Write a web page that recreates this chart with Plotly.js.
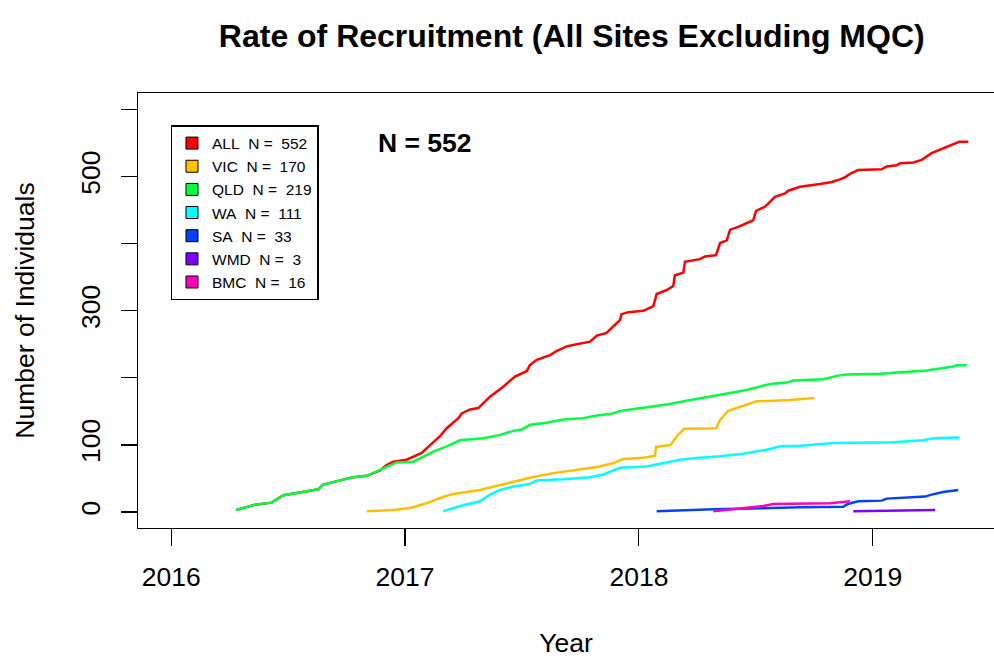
<!DOCTYPE html>
<html>
<head>
<meta charset="utf-8">
<script src="https://cdn.plot.ly/plotly-3.0.1.min.js"></script>
<style>
  html, body { margin: 0; padding: 0; background: #fff; overflow: hidden; }
</style>
</head>
<body>
<div id="chart" style="width:994px;height:658px;"></div>
<script>
// 各サイトの累積登録数 (年は小数で表す)
const allYears = [2016.277, 2016.359, 2016.429, 2016.479, 2016.550, 2016.629, 2016.650, 2016.722, 2016.778, 2016.836,
  2016.893, 2016.921, 2016.950, 2017.007, 2017.071, 2017.092, 2017.149, 2017.178, 2017.206, 2017.228, 2017.242,
  2017.278, 2017.313, 2017.363, 2017.413, 2017.470, 2017.520, 2017.534, 2017.563, 2017.620, 2017.648, 2017.691,
  2017.734, 2017.791, 2017.820, 2017.862, 2017.891, 2017.919, 2017.926, 2017.955, 2018.019, 2018.062, 2018.076,
  2018.119, 2018.147, 2018.154, 2018.190, 2018.197, 2018.261, 2018.283, 2018.330, 2018.347, 2018.376, 2018.390,
  2018.425, 2018.489, 2018.501, 2018.539, 2018.582, 2018.625, 2018.639, 2018.689, 2018.775, 2018.825, 2018.860,
  2018.881, 2018.903, 2018.938, 2019.038, 2019.060, 2019.103, 2019.117, 2019.174, 2019.210, 2019.252, 2019.317,
  2019.352, 2019.370, 2019.409];
const allValues = [3, 11, 14, 25, 29, 34, 41, 47, 52, 54,
  62, 70, 75, 78, 88, 95, 113, 125, 133, 140, 147,
  153, 155, 172, 185, 202, 210, 219, 227, 234, 240, 247,
  250, 254, 263, 267, 277, 286, 295, 298, 300, 307, 325,
  331, 337, 353, 357, 373, 377, 381, 383, 401, 405, 421,
  425, 435, 449, 455, 470, 475, 479, 485, 489, 492, 496,
  499, 504, 510, 511, 515, 517, 520, 521, 525, 535, 544,
  549, 552, 552];

const vicYears = [2016.836, 2016.950, 2017.021, 2017.092, 2017.149, 2017.206, 2017.320, 2017.377, 2017.435, 2017.534,
  2017.634, 2017.734, 2017.820, 2017.891, 2017.933, 2018.019, 2018.069, 2018.073, 2018.136, 2018.162, 2018.193,
  2018.330, 2018.347, 2018.382, 2018.461, 2018.504, 2018.646, 2018.750];
const vicValues = [1, 3, 6, 13, 21, 27, 33, 38, 43, 51,
  58, 63, 67, 73, 79, 81, 84, 97, 100, 113, 124,
  125, 137, 151, 160, 165, 167, 170];

const qldYears = [2016.277, 2016.359, 2016.429, 2016.479, 2016.550, 2016.629, 2016.650, 2016.722, 2016.778, 2016.836,
  2016.921, 2016.964, 2017.035, 2017.121, 2017.178, 2017.235, 2017.334, 2017.406, 2017.463, 2017.499, 2017.534,
  2017.606, 2017.677, 2017.762, 2017.820, 2017.876, 2017.926, 2018.033, 2018.133, 2018.204, 2018.290, 2018.376,
  2018.461, 2018.561, 2018.632, 2018.660, 2018.746, 2018.789, 2018.846, 2018.889, 2019.031, 2019.117, 2019.231,
  2019.288, 2019.345, 2019.359, 2019.402];
const qldValues = [3, 11, 14, 25, 29, 34, 41, 47, 52, 54,
  68, 74, 75, 90, 98, 107, 110, 115, 121, 123, 130,
  133, 138, 140, 144, 146, 151, 156, 161, 166, 171, 176,
  182, 191, 193, 196, 197, 198, 203, 205, 206, 208, 211,
  214, 217, 219, 219];

const waYears = [2017.163, 2017.235, 2017.320, 2017.363, 2017.406, 2017.463, 2017.534, 2017.563, 2017.677, 2017.791,
  2017.848, 2017.891, 2017.919, 2018.033, 2018.090, 2018.176, 2018.233, 2018.347, 2018.447, 2018.504, 2018.561,
  2018.604, 2018.689, 2018.832, 2019.088, 2019.216, 2019.259, 2019.370];
const waValues = [1, 9, 16, 26, 33, 38, 42, 47, 49, 52,
  56, 62, 66, 68, 72, 78, 80, 83, 87, 90, 94,
  98, 99, 103, 104, 107, 110, 111];

const saYears = [2018.076, 2018.318, 2018.689, 2018.874, 2018.894, 2018.938, 2019.038, 2019.060, 2019.224, 2019.252,
  2019.302, 2019.366];
const saValues = [1, 4, 7, 8, 12, 16, 17, 20, 23, 26, 30, 33];

const wmdYears = [2018.917, 2019.216, 2019.267];
const wmdValues = [1, 2, 3];

const bmcYears = [2018.318, 2018.532, 2018.575, 2018.817, 2018.903];
const bmcValues = [1, 9, 12, 13, 16];

const siteNames = ["ALL", "VIC", "QLD", "WA", "SA", "WMD", "BMC"];
const siteColors = ["#FF0000", "#FFBF00", "#00FF40", "#00FFFF", "#0040FF", "#8000FF", "#FF00BF"];
const siteYears = [allYears, vicYears, qldYears, waYears, saYears, wmdYears, bmcYears];
const siteValues = [allValues, vicValues, qldValues, waValues, saValues, wmdValues, bmcValues];

const yearTicks = [2016, 2017, 2018, 2019];
const countTicks = [0, 100, 200, 300, 400, 500, 600];
const countTickText = ["0", "100", "", "300", "", "500", ""];

const nbsp = "\u00a0";
const fontFamily = "Liberation Sans, Arial, sans-serif";

// 折れ線
let data = [];
for (let i = 0; i < siteNames.length; i++) {
  data.push({
    x: siteYears[i],
    y: siteValues[i],
    type: "scatter",
    mode: "lines",
    line: { color: siteColors[i], width: 2.5 },
    showlegend: false,
    hoverinfo: "skip",
  });
}

// 凡例用 (四角い記号)
for (let i = 0; i < siteNames.length; i++) {
  const vals = siteValues[i];
  data.push({
    x: [null],
    y: [null],
    type: "scatter",
    mode: "markers",
    marker: { symbol: "square", size: 12, color: siteColors[i], line: { color: "black", width: 1 } },
    name: siteNames[i] + nbsp + nbsp + "N =" + nbsp + nbsp + vals[vals.length - 1],
  });
}

const total = allValues[allValues.length - 1];

let layout = {
  width: 994,
  height: 658,
  margin: { l: 138, r: 0, t: 93, b: 130, pad: 0 },
  paper_bgcolor: "white",
  plot_bgcolor: "white",
  font: { family: fontFamily, color: "black", size: 26.5 },
  title: {
    text: "Rate of Recruitment (All Sites Excluding MQC)",
    font: { family: fontFamily, size: 32, weight: "bold", color: "black" },
    xref: "container",
    yref: "container",
    x: 0.5752,
    xanchor: "center",
    y: 0.9453,
    yanchor: "middle",
  },
  xaxis: {
    range: [2015.8576, 2019.5189],
    tickvals: yearTicks,
    ticktext: yearTicks.map(String),
    ticks: "outside",
    ticklen: 17,
    tickwidth: 1.2,
    tickcolor: "black",
    ticklabelstandoff: 8,
    showline: true,
    linecolor: "black",
    linewidth: 1.3,
    mirror: true,
    showgrid: false,
    zeroline: false,
    tickfont: { size: 26.5 },
    title: { text: "Year", font: { size: 26.5 }, standoff: 42 },
    automargin: false,
  },
  yaxis: {
    range: [-23.8, 624.7],
    tickvals: countTicks,
    ticktext: countTickText,
    tickangle: -90,
    ticks: "outside",
    ticklen: 16,
    tickwidth: 1.2,
    tickcolor: "black",
    ticklabelstandoff: 10,
    showline: true,
    linecolor: "black",
    linewidth: 1.3,
    mirror: false,
    showgrid: false,
    zeroline: false,
    tickfont: { size: 26.5 },
    title: { text: "Number of Individuals", font: { size: 26.5 }, standoff: 33 },
    automargin: false,
  },
  showlegend: true,
  legend: {
    x: 0.0382,
    y: 0.9259,
    xanchor: "left",
    yanchor: "top",
    bgcolor: "white",
    bordercolor: "black",
    borderwidth: 1.3,
    font: { size: 15.5, family: fontFamily },
    tracegroupgap: 0,
    itemclick: false,
    itemdoubleclick: false,
  },
  annotations: [
    {
      text: "N = " + total,
      xref: "paper",
      yref: "paper",
      x: 0.3353,
      y: 0.8857,
      xanchor: "center",
      yanchor: "middle",
      showarrow: false,
      font: { size: 26.5, weight: "bold", family: fontFamily },
    },
  ],
};

Plotly.newPlot("chart", data, layout, { displayModeBar: false, staticPlot: true });
</script>
</body>
</html>
